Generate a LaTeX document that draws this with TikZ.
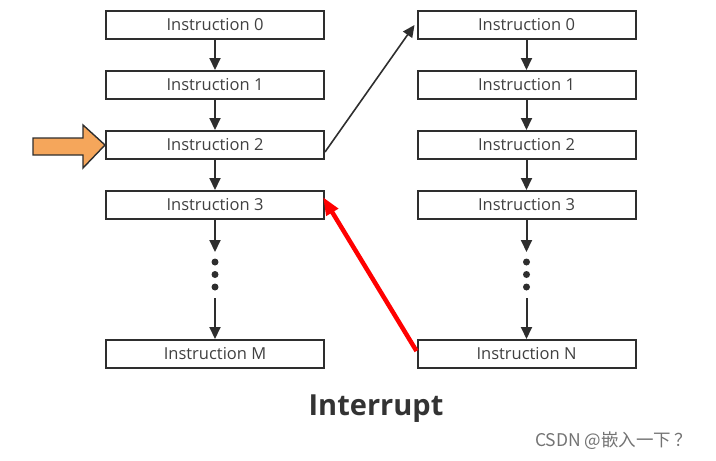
\documentclass[tikz,border=0pt]{standalone}
\usepackage{fontspec}
\setmainfont{Open Sans}
\newfontfamily\cjk{Noto Sans CJK SC}
\usetikzlibrary{arrows.meta}
\definecolor{linegray}{HTML}{2E2E2E}
\definecolor{pcorange}{HTML}{F5A65B}
\definecolor{irqred}{HTML}{FF0000}
\tikzset{
  instr/.style={draw=linegray, line width=2pt, minimum width=218pt, minimum height=28pt,
    inner sep=0pt, font=\fontsize{16.5}{18}\selectfont, text=black!75},
  flow/.style={-{Triangle[length=12pt, width=11pt]}, draw=linegray, line width=2pt},
  dot/.style={circle, fill=linegray, inner sep=0pt, minimum size=7pt}
}
\begin{document}
\begin{tikzpicture}[x=1pt, y=-1pt]
  \useasboundingbox (0,0) rectangle (716,461);
  % programa principal
  \node[instr] (m0) at (215,25)  {Instruction 0};
  \node[instr] (m1) at (215,85)  {Instruction 1};
  \node[instr] (m2) at (215,145) {Instruction 2};
  \node[instr] (m3) at (215,205) {Instruction 3};
  \node[instr] (mM) at (215,354) {Instruction M};
  % rutina de interrupcion
  \node[instr] (n0) at (526.5,25)  {Instruction 0};
  \node[instr] (n1) at (526.5,85)  {Instruction 1};
  \node[instr] (n2) at (526.5,145) {Instruction 2};
  \node[instr] (n3) at (526.5,205) {Instruction 3};
  \node[instr] (nN) at (526.5,354) {Instruction N};
  % flechas verticales
  \draw[flow] (m0) -- (m1);
  \draw[flow] (m1) -- (m2);
  \draw[flow] (m2) -- (m3);
  \draw[flow] (n0) -- (n1);
  \draw[flow] (n1) -- (n2);
  \draw[flow] (n2) -- (n3);
  % puntos suspensivos
  \coordinate (mu) at (215,252);
  \coordinate (md) at (215,298);
  \coordinate (nu) at (526.5,252);
  \coordinate (nd) at (526.5,298);
  \draw[flow] (m3) -- (mu);
  \draw[flow] (md) -- (mM);
  \draw[flow] (n3) -- (nu);
  \draw[flow] (nd) -- (nN);
  \foreach \y in {262,274.5,287} {
    \node[dot] at (215,\y) {};
    \node[dot] at (526.5,\y) {};
  }
  % puntero actual
  \draw[linegray, line width=1.4pt, fill=pcorange]
    (33,138) -- (83,138) -- (83,125) -- (m2.west) -- (83,168) -- (83,155) -- (33,155) -- cycle;
  % salto y retorno
  \draw[flow, line width=1.6pt] ([yshift=-7pt]m2.east) -- ([xshift=-2pt]n0.west);
  \draw[-{Triangle[length=18pt, width=13pt]}, irqred, line width=4.5pt]
    ([yshift=3pt]nN.west) -- ([xshift=-2pt, yshift=8pt]m3.east);
  % titulo
  \node[font=\bfseries\fontsize{29}{32}\selectfont, text=black!80] (title) at (376,409) {Interrupt};
  \node[font=\cjk\fontsize{17.5}{19}\selectfont, text=black!55, anchor=west, inner sep=0pt] (mark) at (535,441) {CSDN @嵌入一下\,？};
\end{tikzpicture}
\end{document}
